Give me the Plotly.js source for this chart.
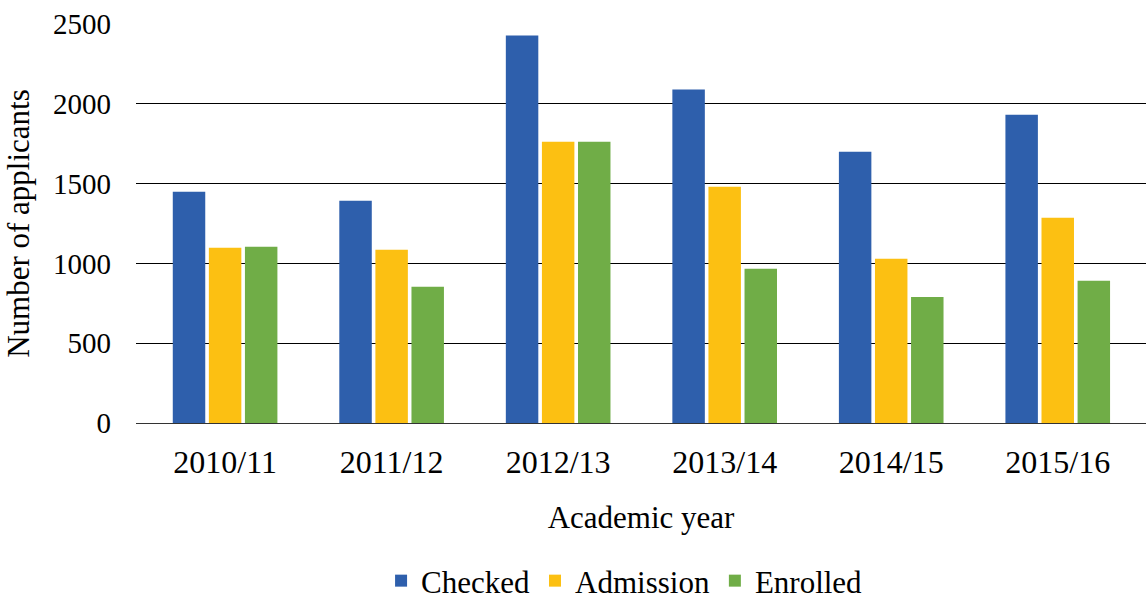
<!DOCTYPE html>
<html><head><meta charset="utf-8">
<script src="https://cdn.plot.ly/plotly-3.0.1.min.js"></script>
<style>body{margin:0;background:#fff}#chart{width:1146px;height:608px}</style>
</head><body><div id="chart"></div>
<script>
const categories = ["2010/11","2011/12","2012/13","2013/14","2014/15","2015/16"];
const checked = [1449,1393,2428,2089,1700,1932];
const admission = [1098,1085,1763,1481,1029,1286];
const enrolled = [1104,853,1763,966,790,891];
const seriesNames = ["Checked","Admission","Enrolled"];
const colors = ["#2E5FAC","#FCC012","#70AD47"];
const yTicks = [0,500,1000,1500,2000,2500];

const font = "Liberation Serif, Times New Roman, serif";
const data = [checked, admission, enrolled].map((v,i)=>({
  type:"bar", x:categories, y:v, name:seriesNames[i],
  marker:{color:colors[i]}, hoverinfo:"y"
}));
const layout = {
  width:1146, height:608,
  margin:{l:136,r:0,t:24,b:185},
  paper_bgcolor:"#fff", plot_bgcolor:"#fff",
  font:{family:font, color:"#000", size:28},
  barmode:"group", bargap:0.35, bargroupgap:0.1,
  xaxis:{
    automargin:false, range:[-0.535,5.53],
    tickfont:{family:font, size:32}, showgrid:false, showline:true, linecolor:"#333", linewidth:1,
    ticks:"", ticklabelstandoff:11,
    title:{text:"Academic year", font:{family:font, size:31}, standoff:26}
  },
  yaxis:{
    automargin:false,
    range:[0,2500], tickvals:yTicks, ticktext:yTicks.map(String),
    showgrid:true, gridcolor:"#000", gridwidth:1, zeroline:false,
    showline:false, ticks:"", tickfont:{family:font, size:29}, ticklabelstandoff:24,
    title:{text:"Number of applicants", font:{family:font, size:31}, standoff:14}
  },
  legend:{orientation:"h", x:0.545, xanchor:"center", xref:"container",
    y:-0.03, yanchor:"bottom", yref:"container",
    font:{family:font, size:31}, traceorder:"normal"},
  showlegend:true
};
Plotly.newPlot("chart", data, layout, {displayModeBar:false, staticPlot:true});
</script></body></html>
